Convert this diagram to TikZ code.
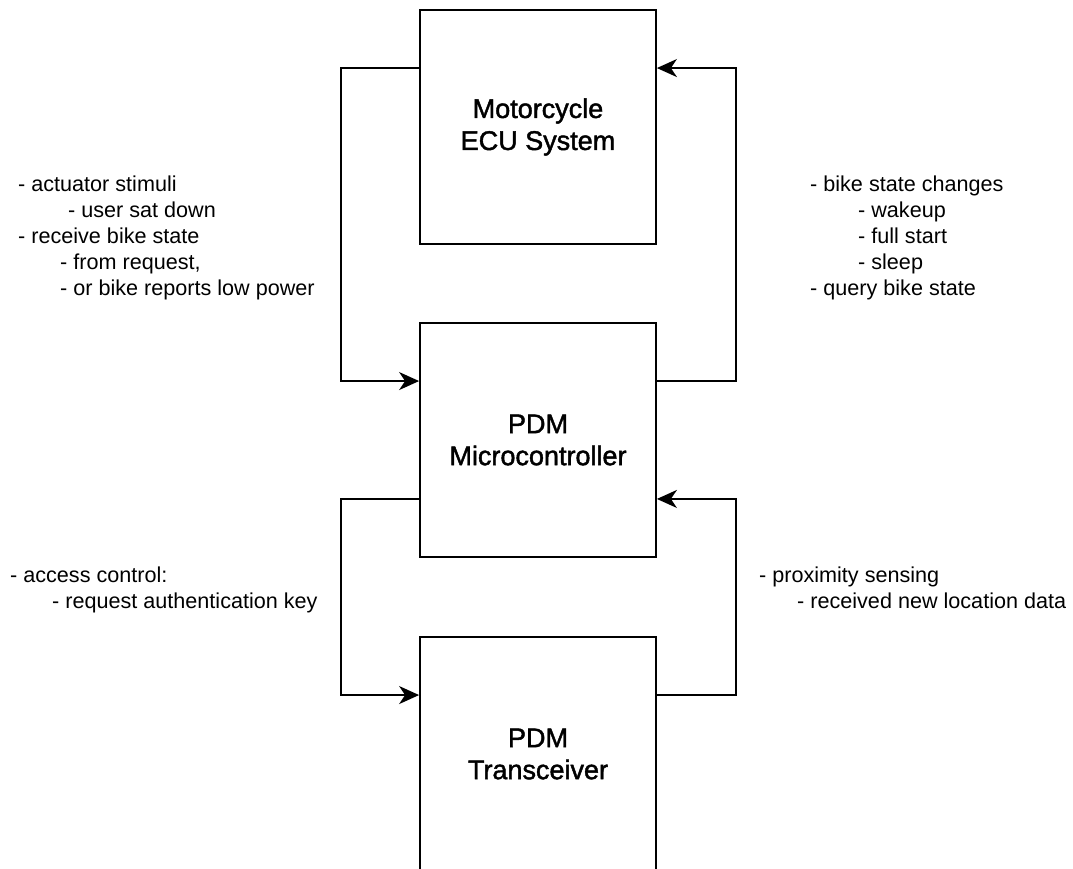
\documentclass[tikz,border=0pt]{standalone}
\usepackage{fontspec}
\setmainfont{Liberation Sans}
\newfontfamily\boxfont{Liberation Sans}[FakeBold=1.6]
\usetikzlibrary{arrows.meta,calc}
\tikzset{
  blk/.style={draw=black,line width=1.8pt,minimum width=236pt,minimum height=234pt,inner sep=0pt,align=center,font=\boxfont\fontsize{27}{32}\selectfont},
  conn/.style={line width=1.8pt,draw=black},
  arr/.style={conn,-{Stealth[length=20pt,width=18pt,inset=6pt]}},
  lbl/.style={anchor=base west,inner sep=0pt,font=\fontsize{21.6}{25}\selectfont}
}
\begin{document}
\begin{tikzpicture}[x=1pt,y=-1pt]
\useasboundingbox (0,0) rectangle (1073,869);
\clip (0,0) rectangle (1073,869);
\node[blk] (t) at (538,127) {Motorcycle\\ECU System};
\node[blk] (m) at (538,440) {PDM\\Microcontroller};
\node[blk] (b) at (538,754) {PDM\\Transceiver};

\coordinate (tw) at ($(t.north west)!.25!(t.south west)$);
\coordinate (te) at ($(t.north east)!.25!(t.south east)$);
\coordinate (mw1) at ($(m.north west)!.25!(m.south west)$);
\coordinate (me1) at ($(m.north east)!.25!(m.south east)$);
\coordinate (mw2) at ($(m.north west)!.75!(m.south west)$);
\coordinate (me2) at ($(m.north east)!.75!(m.south east)$);
\coordinate (bw) at ($(b.north west)!.25!(b.south west)$);
\coordinate (be) at ($(b.north east)!.25!(b.south east)$);

\draw[arr] (tw) -- ++(-78,0) |- (mw1);
\draw[arr] (me1) -- ++(79,0) |- (te);
\draw[arr] (mw2) -- ++(-78,0) |- (bw);
\draw[arr] (be) -- ++(79,0) |- (me2);

\node[lbl] (l1) at (18,192) {- actuator stimuli};
\node[lbl] (l2) at (68,218) {- user sat down};
\node[lbl] (l3) at (18,243.5) {- receive bike state};
\node[lbl] (l4) at (60,269) {- from request,};
\node[lbl] (l5) at (60,295) {- or bike reports low power};

\node[lbl] (r1) at (810,192) {- bike state changes};
\node[lbl] (r2) at (858,218) {- wakeup};
\node[lbl] (r3) at (858,243.5) {- full start};
\node[lbl] (r4) at (858,269) {- sleep};
\node[lbl] (r5) at (810,295) {- query bike state};

\node[lbl] (a1) at (10,582) {- access control:};
\node[lbl] (a2) at (52,608) {- request authentication key};

\node[lbl] (p1) at (759,582) {- proximity sensing};
\node[lbl] (p2) at (797,608) {- received new location data};
\end{tikzpicture}
\end{document}
